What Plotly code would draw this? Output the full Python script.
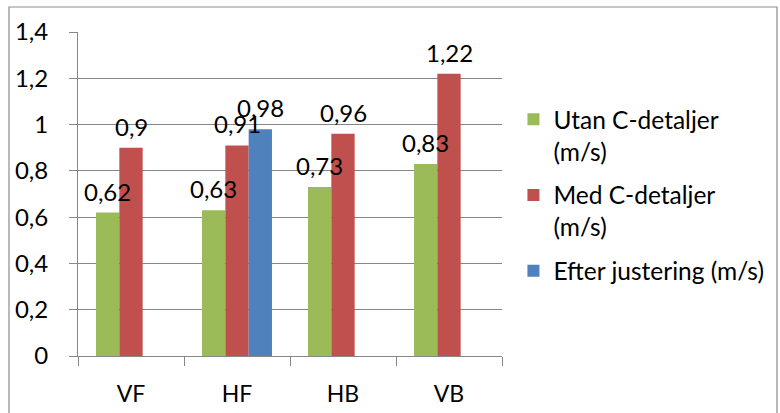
import plotly.graph_objects as go

categories = ["VF", "HF", "HB", "VB"]
utan = [0.62, 0.63, 0.73, 0.83]
med = [0.90, 0.91, 0.96, 1.22]
efter = [None, 0.98, None, None]

series = [
    ("Utan C-detaljer<br>(m/s)", utan, "#9BBB59"),
    ("Med C-detaljer<br>(m/s)", med, "#C0504D"),
    ("Efter justering (m/s)", efter, "#4F81BD"),
]

FONT = "Lato, 'Open Sans', sans-serif"
GRID = "#878787"
BARGAP = 0.34
slot = (1 - BARGAP) / len(series)

fig = go.Figure()
for i, (name, vals, color) in enumerate(series):
    fig.add_trace(go.Bar(
        x=categories, y=vals, name=name, marker_color=color,
        marker_line_width=0, legendgroup=f"g{i}",
    ))
    # value labels above each bar
    for j, v in enumerate(vals):
        if v is None:
            continue
        fig.add_annotation(
            x=j + (i - 1) * slot, y=v, xref="x", yref="y",
            text=f"{v:g}".replace(".", ","), showarrow=False,
            yanchor="bottom", yshift=5,
            font=dict(family=FONT, size=24, color="#000000"),
        )

# outer chart frame
fig.add_shape(
    type="rect", xref="paper", yref="paper",
    x0=(9 - 78) / 424, x1=(777 - 78) / 424,
    y0=(356 - 430) / 324, y1=(356 - 7) / 324,
    line=dict(color="#8C8C8C", width=1.2), fillcolor="rgba(0,0,0,0)",
    layer="below",
)

fig.update_layout(
    width=780, height=413,
    margin=dict(l=78, r=278, t=32, b=57, autoexpand=False),
    paper_bgcolor="white", plot_bgcolor="white",
    barmode="group", bargap=BARGAP, bargroupgap=0,
    separators=", ",
    font=dict(family=FONT, size=24, color="#000000"),
    showlegend=True,
    legend=dict(
        x=1.027, y=0.80, xanchor="left", yanchor="top",
        valign="top", tracegroupgap=9, itemwidth=30,
        font=dict(family=FONT, size=24.5, color="#000000"),
        bgcolor="rgba(0,0,0,0)",
    ),
    xaxis=dict(
        type="category", showline=True, linecolor=GRID, linewidth=1,
        ticks="outside", tickson="boundaries", ticklen=9, tickcolor=GRID,
        showgrid=False, ticklabelstandoff=17, automargin=False,
        tickfont=dict(family=FONT, size=23, color="#000000"),
    ),
    yaxis=dict(
        range=[0, 1.4], dtick=0.2, tick0=0,
        showline=True, linecolor=GRID, linewidth=1,
        showgrid=True, gridcolor=GRID, gridwidth=1,
        ticks="outside", ticklen=8, tickcolor=GRID,
        ticklabelstandoff=16, zeroline=False, automargin=False,
        tickfont=dict(family=FONT, size=24, color="#000000"),
    ),
)

fig.write_html("out.html")
